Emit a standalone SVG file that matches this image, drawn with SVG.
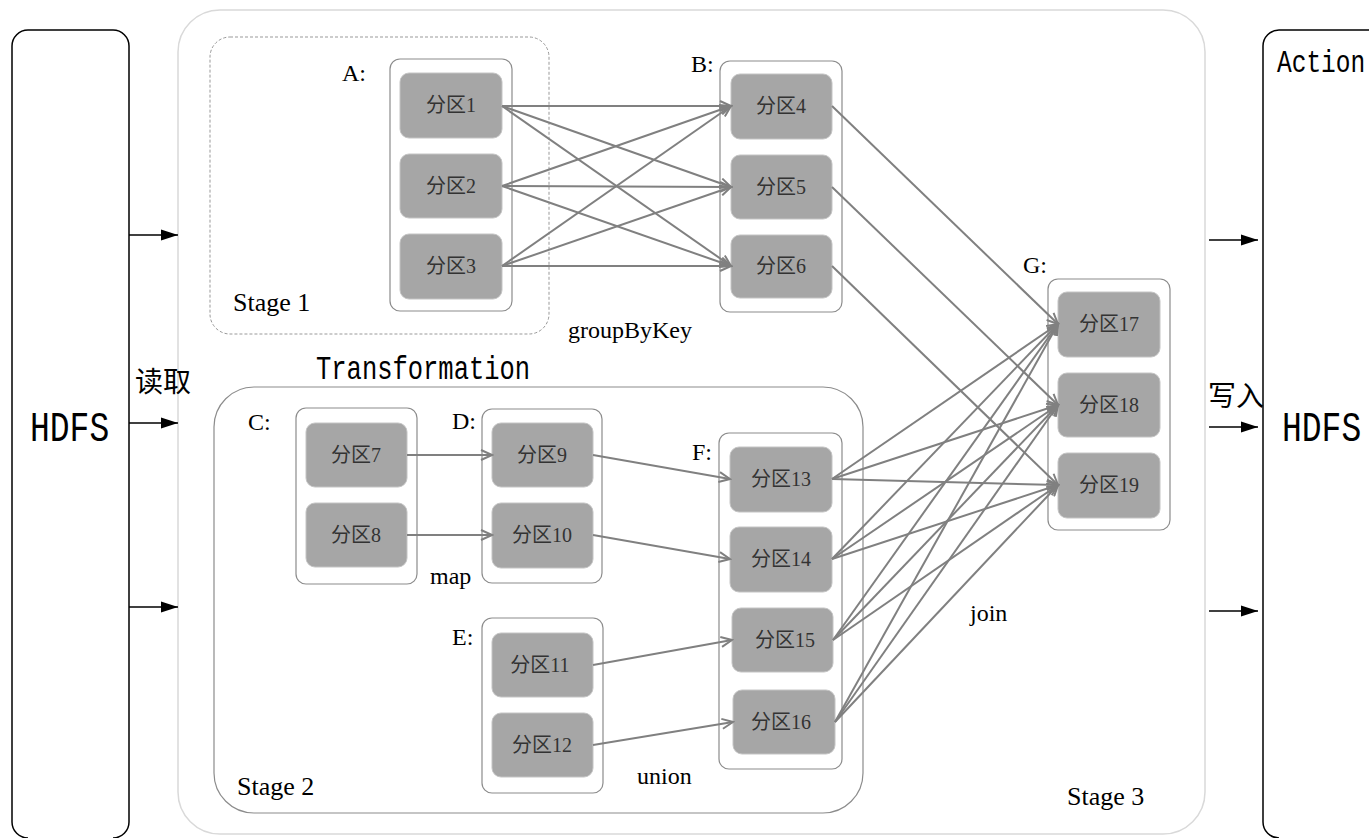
<svg xmlns="http://www.w3.org/2000/svg" width="1369" height="838" viewBox="0 0 1369 838">
<style>
.side{fill:#fff;stroke:#000;stroke-width:1.5}
.stage{fill:none;stroke:#8c8c8c;stroke-width:1.2}
.cont{fill:#fff;stroke:#8c8c8c;stroke-width:1.2}
.part{fill:#a6a6a6;stroke:#c4c4c4;stroke-width:1}
.pt{font-family:"Liberation Serif","Noto Sans CJK SC",serif;font-size:20px;fill:#333;text-anchor:middle}
.lab{font-family:"Liberation Serif",serif;font-size:24px;fill:#000}
.stg{font-family:"Liberation Serif",serif;font-size:26px;fill:#000}
.mono{font-family:"Liberation Mono","DejaVu Sans Mono",monospace;fill:#000}
.cjk{font-family:"Noto Sans CJK SC",sans-serif;font-size:28px;fill:#000}
.c{stroke:#808080;stroke-width:2;fill:none;marker-end:url(#oa)}
.io{stroke:#000;stroke-width:1.5;fill:none;marker-end:url(#fa)}
</style>
<defs>
<marker id="oa" markerUnits="userSpaceOnUse" markerWidth="14" markerHeight="12" refX="12" refY="6" orient="auto">
<path d="M1,1 L12,6 L1,11" fill="none" stroke="#808080" stroke-width="2"/>
</marker>
<marker id="fa" markerUnits="userSpaceOnUse" markerWidth="18" markerHeight="12" refX="17" refY="6" orient="auto">
<path d="M0,0.5 L17,6 L0,11.5 Z" fill="#000"/>
</marker>
</defs>
<rect width="1369" height="838" fill="#fff"/>

<g id="hdfs-in">
<path class="side" d="M28,838 A16,16 0 0 1 12,822 V46 A16,16 0 0 1 28,30 H113 A16,16 0 0 1 129,46 V822 A16,16 0 0 1 113,838"/>
<text class="mono" font-size="33" transform="translate(30,441) scale(1,1.3)">HDFS</text>
</g>
<g id="hdfs-out">
<path class="side" d="M1369,30 H1279 A16,16 0 0 0 1263,46 V822 A16,16 0 0 0 1279,838"/>
<text class="mono" font-size="24.5" transform="translate(1277,72) scale(1,1.3)">Action</text>
<text class="mono" font-size="33" transform="translate(1282,441) scale(1,1.3)">HDFS</text>
</g>

<g id="stage3">
<rect x="178" y="10" width="1027" height="824" rx="42" fill="none" stroke="#d9d9d9" stroke-width="1.5"/>
<text class="stg" x="1067" y="805">Stage 3</text>
</g>
<g id="stage1">
<rect x="210" y="37" width="339" height="297" rx="20" fill="none" stroke="#999" stroke-width="1" stroke-dasharray="3,2"/>
<text class="stg" x="233" y="311">Stage 1</text>
</g>
<g id="stage2">
<rect class="stage" x="214" y="387" width="649" height="426" rx="40"/>
<text class="stg" x="237" y="795">Stage 2</text>
</g>
<text class="mono" font-size="25.5" transform="translate(316,379) scale(1,1.3)">Transformation</text>
<text class="cjk" x="135" y="392">读取</text>
<text class="cjk" x="1208" y="406">写入</text>

<g id="A">
<text class="lab" x="342" y="81">A:</text>
<rect class="cont" x="390" y="59" width="122" height="252" rx="10"/>
</g>
<g id="p1"><rect class="part" x="400" y="73" width="102" height="65" rx="9"/><text class="pt" x="451" y="112">分区1</text></g>
<g id="p2"><rect class="part" x="400" y="154" width="102" height="64" rx="9"/><text class="pt" x="451" y="193">分区2</text></g>
<g id="p3"><rect class="part" x="400" y="234" width="102" height="65" rx="9"/><text class="pt" x="451" y="273">分区3</text></g>

<g id="B">
<text class="lab" x="691" y="72">B:</text>
<rect class="cont" x="720" y="61" width="122" height="251" rx="10"/>
</g>
<g id="p4"><rect class="part" x="731" y="74" width="101" height="65" rx="9"/><text class="pt" x="781" y="113">分区4</text></g>
<g id="p5"><rect class="part" x="731" y="155" width="101" height="64" rx="9"/><text class="pt" x="781" y="194">分区5</text></g>
<g id="p6"><rect class="part" x="731" y="235" width="101" height="63" rx="9"/><text class="pt" x="781" y="273">分区6</text></g>

<g id="G">
<text class="lab" x="1023" y="273">G:</text>
<rect class="cont" x="1048" y="279" width="122" height="251" rx="10"/>
</g>
<g id="p17"><rect class="part" x="1058" y="292" width="102" height="65" rx="9"/><text class="pt" x="1109" y="331">分区17</text></g>
<g id="p18"><rect class="part" x="1058" y="373" width="102" height="64" rx="9"/><text class="pt" x="1109" y="412">分区18</text></g>
<g id="p19"><rect class="part" x="1058" y="453" width="102" height="65" rx="9"/><text class="pt" x="1109" y="492">分区19</text></g>

<g id="C">
<text class="lab" x="248" y="430">C:</text>
<rect class="cont" x="296" y="408" width="121" height="176" rx="10"/>
</g>
<g id="p7"><rect class="part" x="306" y="423" width="101" height="64" rx="9"/><text class="pt" x="356" y="462">分区7</text></g>
<g id="p8"><rect class="part" x="306" y="503" width="101" height="64" rx="9"/><text class="pt" x="356" y="542">分区8</text></g>

<g id="D">
<text class="lab" x="452" y="429">D:</text>
<rect class="cont" x="482" y="409" width="120" height="174" rx="10"/>
</g>
<g id="p9"><rect class="part" x="492" y="423" width="101" height="64" rx="9"/><text class="pt" x="542" y="462">分区9</text></g>
<g id="p10"><rect class="part" x="492" y="503" width="101" height="65" rx="9"/><text class="pt" x="542" y="542">分区10</text></g>

<g id="E">
<text class="lab" x="452" y="645">E:</text>
<rect class="cont" x="482" y="618" width="121" height="175" rx="10"/>
</g>
<g id="p11"><rect class="part" x="492" y="633" width="101" height="64" rx="9"/><text class="pt" x="540" y="672">分区11</text></g>
<g id="p12"><rect class="part" x="492" y="713" width="101" height="64" rx="9"/><text class="pt" x="542" y="752">分区12</text></g>

<g id="F">
<text class="lab" x="692" y="460">F:</text>
<rect class="cont" x="719" y="433" width="123" height="336" rx="10"/>
</g>
<g id="p13"><rect class="part" x="730" y="447" width="102" height="65" rx="9"/><text class="pt" x="781" y="486">分区13</text></g>
<g id="p14"><rect class="part" x="730" y="527" width="102" height="65" rx="9"/><text class="pt" x="781" y="566">分区14</text></g>
<g id="p15"><rect class="part" x="732" y="608" width="101" height="64" rx="9"/><text class="pt" x="785" y="647">分区15</text></g>
<g id="p16"><rect class="part" x="733" y="690" width="102" height="64" rx="9"/><text class="pt" x="781" y="729">分区16</text></g>

<text class="lab" x="568" y="338">groupByKey</text>
<text class="lab" x="430" y="584">map</text>
<text class="lab" x="637" y="784">union</text>
<text class="lab" x="970" y="621">join</text>

<g id="connectors">
<path class="io" d="M129,235 H178"/>
<path class="io" d="M129,423 H178"/>
<path class="io" d="M129,607 H178"/>
<path class="io" d="M1209,240 H1258"/>
<path class="io" d="M1209,427 H1258"/>
<path class="io" d="M1209,611 H1258"/>

<path class="c" d="M502,106 L731,106"/>
<path class="c" d="M502,106 L731,187"/>
<path class="c" d="M502,106 L731,266"/>
<path class="c" d="M502,186 L731,106"/>
<path class="c" d="M502,186 L731,187"/>
<path class="c" d="M502,186 L731,266"/>
<path class="c" d="M502,266 L731,106"/>
<path class="c" d="M502,266 L731,187"/>
<path class="c" d="M502,266 L731,266"/>

<path class="c" d="M832,106 L1058,324"/>
<path class="c" d="M832,187 L1058,405"/>
<path class="c" d="M832,266 L1058,485"/>

<path class="c" d="M407,455 L492,455"/>
<path class="c" d="M407,535 L492,535"/>
<path class="c" d="M593,455 L730,479"/>
<path class="c" d="M593,535 L730,559"/>
<path class="c" d="M593,665 L732,640"/>
<path class="c" d="M593,745 L733,722"/>

<path class="c" d="M832,479 L1058,324"/>
<path class="c" d="M832,479 L1058,405"/>
<path class="c" d="M832,479 L1058,485"/>
<path class="c" d="M832,559 L1058,324"/>
<path class="c" d="M832,559 L1058,405"/>
<path class="c" d="M832,559 L1058,485"/>
<path class="c" d="M833,640 L1058,324"/>
<path class="c" d="M833,640 L1058,405"/>
<path class="c" d="M833,640 L1058,485"/>
<path class="c" d="M835,722 L1058,324"/>
<path class="c" d="M835,722 L1058,405"/>
<path class="c" d="M835,722 L1058,485"/>
</g>
</svg>
